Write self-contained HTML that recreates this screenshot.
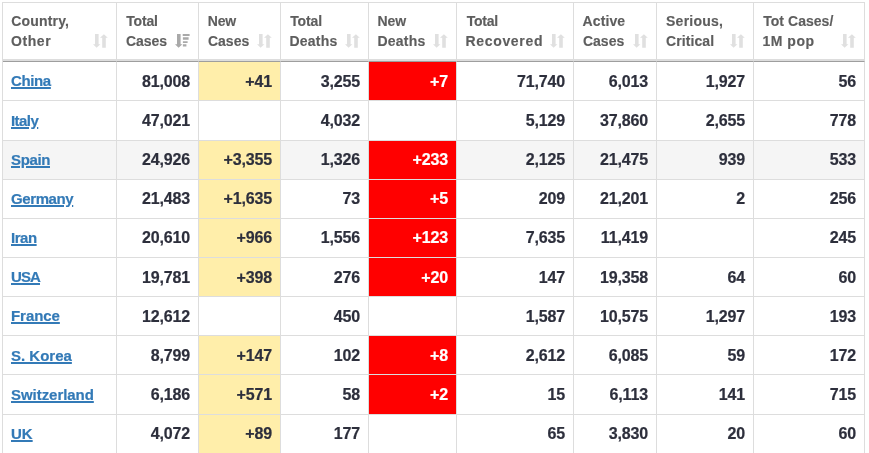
<!DOCTYPE html>
<html><head><meta charset="utf-8">
<style>
html,body{margin:0;padding:0;background:#fff;}
body{width:869px;height:453px;overflow:hidden;font-family:"Liberation Sans",Arial,sans-serif;}
table{position:absolute;left:2px;top:2px;border-collapse:separate;border-spacing:0;table-layout:fixed;width:863px;font-size:16px;font-weight:bold;color:#2d2f3c;border-left:1px solid #ddd;border-top:1px solid #ddd;}
col.c1{width:114px}col.c2{width:82px}col.c3{width:82px}col.c4{width:88px}col.c5{width:88px}col.c6{width:117px}col.c7{width:83px}col.c8{width:97px}col.c9{width:111px}
th,td{border-right:1px solid #ddd;border-bottom:1px solid #ddd;box-sizing:border-box;}
th{-webkit-text-stroke:0.15px currentColor;height:59px;font-size:14px;line-height:20px;color:#5e5e5e;text-align:left;vertical-align:top;padding:8px 0 0 8px;position:relative;border-bottom:1px solid #9e9e9e;box-shadow:inset 0 -2px 0 #ddd;white-space:nowrap;}
td{-webkit-text-stroke:0.2px currentColor;height:39px;padding:8px 8px 0 8px;line-height:22px;letter-spacing:-0.15px;text-align:right;vertical-align:top;white-space:nowrap;}
tr.h40 td{height:40px;}
tr.p9 td{padding-top:9px;}
tr.p9 td.p8{padding-top:8px;}
td:first-child{text-align:left;font-size:15px;letter-spacing:0;}
td a{color:#337ab7;text-decoration:underline;text-decoration-thickness:1.5px;}
tr.alt td{background:#f5f5f5;}
td.nc{background:#ffeeaa !important;}
td.nd{background:#ff0000 !important;color:#fff;}
.s{position:absolute;right:8.3px;top:31px;width:15px;height:14px;fill:#e0e0e0;}
.s.d{fill:#a9a9a9;}
</style></head><body>
<table>
<colgroup><col class="c1"><col class="c2"><col class="c3"><col class="c4"><col class="c5"><col class="c6"><col class="c7"><col class="c8"><col class="c9"></colgroup>
<thead><tr>
<th><span style="margin-left:0.24px;letter-spacing:0.18px">Country,</span><br><span style="margin-left:0.04px;letter-spacing:0.58px">Other</span><svg class="s" viewBox="0 0 15 14"><path d="M2 0h3.6v10.2h1.8L3.6 13.7 0 10.2h2z M9.2 13.7V3.8H7L10.9 0.3 14.8 3.8h-2v9.9z"/></svg></th>
<th><span style="margin-left:1.22px;letter-spacing:-0.17px">Total</span><br><span style="margin-left:0.96px;letter-spacing:-0.04px">Cases</span><svg class="s d" viewBox="0 0 15 14"><path d="M2 0h3.6v10.2h1.8L3.6 13.7 0 10.2h2z M7.7 0h6.9v1.9H7.7z M7.9 3.3h5.7v2.5H7.9z M7.9 7.2h4.7v1.8H7.9z M7.9 10.3h3.5v2.1H7.9z"/></svg></th>
<th><span style="margin-left:0.78px;letter-spacing:-0.19px">New</span><br><span style="margin-left:0.96px;letter-spacing:-0.00px">Cases</span><svg class="s" viewBox="0 0 15 14"><path d="M2 0h3.6v10.2h1.8L3.6 13.7 0 10.2h2z M9.2 13.7V3.8H7L10.9 0.3 14.8 3.8h-2v9.9z"/></svg></th>
<th><span style="margin-left:1.21px;letter-spacing:-0.13px">Total</span><br><span style="margin-left:0.40px;letter-spacing:0.25px">Deaths</span><svg class="s" viewBox="0 0 15 14"><path d="M2 0h3.6v10.2h1.8L3.6 13.7 0 10.2h2z M9.2 13.7V3.8H7L10.9 0.3 14.8 3.8h-2v9.9z"/></svg></th>
<th><span style="margin-left:0.40px;letter-spacing:-0.02px">New</span><br><span style="margin-left:0.40px;letter-spacing:0.25px">Deaths</span><svg class="s" viewBox="0 0 15 14"><path d="M2 0h3.6v10.2h1.8L3.6 13.7 0 10.2h2z M9.2 13.7V3.8H7L10.9 0.3 14.8 3.8h-2v9.9z"/></svg></th>
<th><span style="margin-left:1.67px;letter-spacing:-0.25px">Total</span><br><span style="margin-left:0.40px;letter-spacing:0.69px">Recovered</span><svg class="s" viewBox="0 0 15 14"><path d="M2 0h3.6v10.2h1.8L3.6 13.7 0 10.2h2z M9.2 13.7V3.8H7L10.9 0.3 14.8 3.8h-2v9.9z"/></svg></th>
<th><span style="margin-left:0.53px;letter-spacing:0.11px">Active</span><br><span style="margin-left:0.96px;letter-spacing:-0.00px">Cases</span><svg class="s" viewBox="0 0 15 14"><path d="M2 0h3.6v10.2h1.8L3.6 13.7 0 10.2h2z M9.2 13.7V3.8H7L10.9 0.3 14.8 3.8h-2v9.9z"/></svg></th>
<th><span style="margin-left:1.02px;letter-spacing:0.25px">Serious,</span><br><span style="margin-left:0.96px;letter-spacing:0.09px">Critical</span><svg class="s" viewBox="0 0 15 14"><path d="M2 0h3.6v10.2h1.8L3.6 13.7 0 10.2h2z M9.2 13.7V3.8H7L10.9 0.3 14.8 3.8h-2v9.9z"/></svg></th>
<th><span style="margin-left:1.21px;letter-spacing:0.04px">Tot Cases/</span><br><span style="margin-left:0.61px;letter-spacing:0.47px">1M pop</span><svg class="s" viewBox="0 0 15 14"><path d="M2 0h3.6v10.2h1.8L3.6 13.7 0 10.2h2z M9.2 13.7V3.8H7L10.9 0.3 14.8 3.8h-2v9.9z"/></svg></th>
</tr></thead>
<tbody>
<tr class="p9"><td class="p8"><a style="letter-spacing:-0.37px">China</a></td><td>81,008</td><td class="nc">+41</td><td>3,255</td><td class="nd">+7</td><td>71,740</td><td>6,013</td><td>1,927</td><td>56</td></tr>
<tr class="h40 p9"><td><a style="letter-spacing:-0.55px">Italy</a></td><td>47,021</td><td></td><td>4,032</td><td></td><td>5,129</td><td>37,860</td><td>2,655</td><td>778</td></tr>
<tr class="alt"><td><a style="letter-spacing:-0.37px">Spain</a></td><td>24,926</td><td class="nc">+3,355</td><td>1,326</td><td class="nd">+233</td><td>2,125</td><td>21,475</td><td>939</td><td>533</td></tr>
<tr><td><a style="letter-spacing:-0.4px">Germany</a></td><td>21,483</td><td class="nc">+1,635</td><td>73</td><td class="nd">+5</td><td>209</td><td>21,201</td><td>2</td><td>256</td></tr>
<tr><td><a style="letter-spacing:-0.47px">Iran</a></td><td>20,610</td><td class="nc">+966</td><td>1,556</td><td class="nd">+123</td><td>7,635</td><td>11,419</td><td></td><td>245</td></tr>
<tr class="p9"><td class="p8"><a style="letter-spacing:-0.9px">USA</a></td><td>19,781</td><td class="nc">+398</td><td>276</td><td class="nd">+20</td><td>147</td><td>19,358</td><td>64</td><td>60</td></tr>
<tr class="p9"><td class="p8"><a style="letter-spacing:-0.06px">France</a></td><td>12,612</td><td></td><td>450</td><td></td><td>1,587</td><td>10,575</td><td>1,297</td><td>193</td></tr>
<tr class="p9"><td><a style="letter-spacing:0px">S. Korea</a></td><td>8,799</td><td class="nc">+147</td><td>102</td><td class="nd">+8</td><td>2,612</td><td>6,085</td><td>59</td><td>172</td></tr>
<tr class="h40 p9"><td><a style="letter-spacing:-0.05px">Switzerland</a></td><td>6,186</td><td class="nc">+571</td><td>58</td><td class="nd">+2</td><td>15</td><td>6,113</td><td>141</td><td>715</td></tr>
<tr><td><a style="letter-spacing:0px">UK</a></td><td>4,072</td><td class="nc">+89</td><td>177</td><td></td><td>65</td><td>3,830</td><td>20</td><td>60</td></tr>
</tbody></table>
</body></html>
